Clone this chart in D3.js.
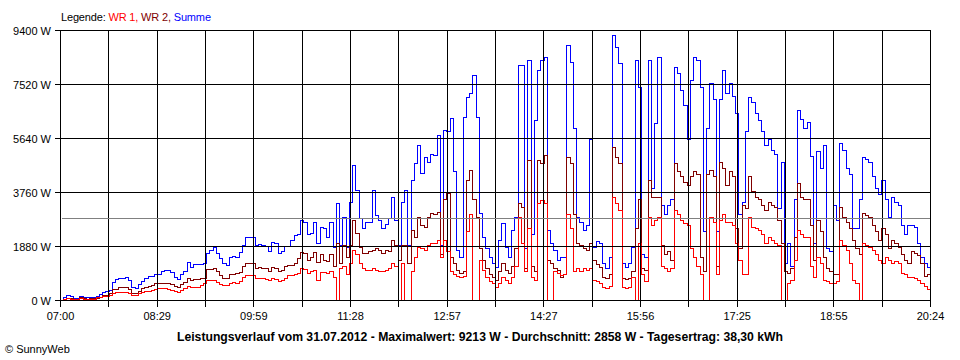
<!DOCTYPE html>
<html><head><meta charset="utf-8">
<script src="https://cdn.jsdelivr.net/npm/d3@7/dist/d3.min.js"></script>
<style>
body{margin:0;background:#fff}
svg{display:block}
text{font-family:"Liberation Sans",Arial,sans-serif;font-size:11px;fill:#000}
</style>
</head><body>
<svg id="c" width="960" height="360"></svg>
<script>
// ---- data ----
const startLabel = "07:00";
const stepMinutes = 3;            // sampling interval of the series
const totalMinutes = 804;         // 07:00 .. 20:24
const summe = [
0,100,160,150,60,80,150,120,90,100,
110,130,200,290,320,340,640,720,770,780,
790,700,450,430,560,650,760,820,840,890,
900,1000,1040,1050,960,800,730,900,1000,1330,
1150,1260,1250,1260,1300,1630,1750,1830,1650,1450,
1300,1220,1500,1520,1510,1680,1900,2200,2200,2200,
1915,1950,1900,1880,1720,2030,2000,1625,1700,1880,
1880,2100,2260,2300,2785,2700,2300,2320,2725,1970,
2550,2500,2200,2725,1850,3370,1900,2900,1850,3400,
4700,3830,2850,2500,2700,2720,3830,2960,2800,2500,
2650,2850,3600,2800,1900,3400,3830,1900,4180,4760,
5400,4420,4980,4800,5100,5050,5740,1900,5920,5900,
6330,4500,1740,1510,6380,7080,7190,7830,6380,3020,
2200,1800,1500,1300,1160,2090,2670,1850,1510,2440,
2900,8180,8180,1800,8360,2300,6270,8000,8360,8470,
2440,1980,1740,1390,1500,1500,8880,8300,6000,2900,
2700,2440,2600,5600,1860,2050,1970,1280,1100,1500,
9213,8820,8250,1280,1160,1300,1860,8360,7420,1600,
1500,8360,3900,6150,8470,3300,3000,3300,3500,8120,
7900,7300,6800,5600,7660,8470,8360,7400,2400,6000,
7550,7000,2400,7000,8000,7200,7550,7100,6500,3000,
3400,5900,7080,6890,6500,6270,5900,5400,5600,5220,
5100,3200,4800,1300,2000,1200,3500,6610,6300,6000,
6200,5000,2000,5200,4600,5400,1800,1700,3300,2800,
5450,5220,4600,4400,2500,2500,3500,4980,4900,4800,
4300,3900,3700,4180,3500,2900,3600,3400,3300,2600,
2300,2600,2610,2540,2000,1500,1300,1150,1000
];
const wr2 = [
0,40,80,70,40,50,90,70,50,60,
60,80,120,160,190,230,370,400,440,450,
450,400,240,230,330,420,460,490,520,580,
580,590,600,600,550,480,460,560,620,755,
680,720,740,760,780,1070,1090,1100,1000,880,
780,760,905,920,930,985,1200,1300,1300,1300,
1100,1160,1130,1100,1000,1150,1120,1000,1050,1180,
1220,1230,1300,1450,1680,1650,1390,1500,1680,1330,
1600,1390,1350,1600,1200,2000,1300,1900,1500,1900,
2785,2320,1860,1625,1650,1700,1740,1800,1740,1650,
1740,1700,2090,1900,1400,1900,1915,1300,2440,2200,
2900,2600,2550,2900,3020,3000,3050,1600,3500,3710,
1500,1300,1050,930,1000,4180,4530,3500,2900,1800,
1390,1100,900,800,700,1000,1280,1040,930,1200,
1800,3370,3250,1100,4870,1200,1000,4870,4770,5050,
1400,1300,1100,1040,810,900,4980,4770,3000,1980,
1900,1800,1740,2000,1390,1250,1160,800,760,900,
5330,4980,4770,760,720,760,1000,2500,3500,1100,
1050,4180,3600,3600,3600,1900,1600,1700,1400,4770,
4500,4300,4100,4000,4300,4500,4400,1500,1000,4400,
4530,4300,1200,4800,4600,4000,4500,4300,2500,1800,
3300,3200,4300,3800,3600,3500,3300,3130,3400,3300,
3250,2800,2000,1000,930,1100,2200,4060,3600,3500,
3500,2600,1400,2800,2400,1500,1100,1000,900,900,
3240,2900,2700,2500,2100,1800,1600,3020,2950,2900,
2600,2400,2100,2500,2300,1800,2100,2000,1850,1600,
1400,1300,1700,1650,1550,1300,850,900,800
];
const wr1 = [
0,20,60,50,30,30,60,50,30,40,
50,90,120,140,150,170,250,270,290,290,
290,260,180,175,240,290,320,330,350,400,
405,405,405,400,340,300,290,350,410,490,
450,460,470,530,580,700,710,700,640,560,
520,520,600,620,600,670,800,870,870,870,
760,755,755,740,700,750,720,650,680,760,
870,870,900,950,1100,1080,950,1000,1050,700,
985,985,950,1000,800,0,1100,1200,900,1300,
1740,1600,1280,1100,1050,1050,1100,1050,1000,1000,
1050,1100,1280,1200,0,1300,0,0,1000,1500,
1860,1800,1750,1900,1970,2000,2090,1500,2100,1700,
1000,900,850,810,850,2400,3000,0,0,1400,
1050,810,650,600,460,600,800,700,600,800,
1200,2900,2000,1000,2500,800,700,3370,3480,3370,
0,0,1000,930,870,900,3000,2500,1000,1100,
1000,1100,1050,1100,700,650,600,460,420,500,
3600,3370,3130,460,420,460,800,0,2000,900,
650,2900,2600,2800,2900,1200,1100,1000,1100,3130,
3000,2800,2670,2600,1800,1500,1200,900,0,0,
2900,2700,900,2800,3000,2700,2700,2600,2000,1400,
900,900,2900,2550,2500,2440,2300,2000,2200,2100,
2000,1900,0,0,600,700,1400,2440,2300,2200,
2200,1200,800,1500,1300,700,650,600,600,650,
2100,1900,1750,1300,700,600,0,1970,1900,1860,
1740,1600,1400,1300,1500,1390,1300,1350,1280,930,
900,810,810,760,700,600,500,400,300
];
const yTicks = [0,1880,3760,5640,7520,9400];
const xTickLabels = ["07:00","08:29","09:59","11:28","12:57","14:27","15:56","17:25","18:55","20:24"];
const gridDivisions = 18;
const average = 2858;
const legendItems = [
  {text:"WR 1,", color:"#ff0000"},
  {text:" WR 2,", color:"#800000"},
  {text:" Summe", color:"#0000ff"}
];
const titleText = "Leistungsverlauf vom 31.07.2012 - Maximalwert: 9213 W - Durchschnitt: 2858 W - Tagesertrag: 38,30 kWh";
const creditText = "\u00A9 SunnyWeb";

// ---- drawing ----
const svg = d3.select("#c");
const x = d3.scaleLinear().domain([0,totalMinutes]).range([60.5,930.5]);
const y = d3.scaleLinear().domain([0,9400]).range([300.5,30.5]);

const series = [
  {values: summe, color:"#0000ff"},
  {values: wr2, color:"#800000"},
  {values: wr1, color:"#ff0000"}
];
const line = d3.line()
  .x((d,i)=>x(i*stepMinutes))
  .y(d=>y(d))
  .curve(d3.curveStepAfter);

const dataG = svg.append("g");
series.forEach(s=>{
  dataG.append("path")
    .attr("d", line(s.values))
    .attr("fill","none")
    .attr("stroke", s.color)
    .attr("stroke-width",1)
    .attr("shape-rendering","crispEdges");
});

// grid (drawn above data as in the original)
const gridTicks = d3.range(gridDivisions+1).map(k=>k*totalMinutes/gridDivisions);
const gridG = svg.append("g").attr("shape-rendering","crispEdges");
yTicks.forEach(v=>{
  gridG.append("line").attr("x1",x(0)-6).attr("x2",x(totalMinutes))
    .attr("y1",y(v)).attr("y2",y(v)).attr("stroke","#000");
});
gridTicks.forEach(t=>{
  gridG.append("line").attr("x1",x(t)).attr("x2",x(t))
    .attr("y1",y(9400)).attr("y2",y(0)+6).attr("stroke","#000");
});
// average line
gridG.append("line").attr("x1",x(0)+1).attr("x2",x(totalMinutes)-1)
  .attr("y1",Math.round(y(average)-0.5)+0.5).attr("y2",Math.round(y(average)-0.5)+0.5)
  .attr("stroke","#808080");

// y labels
svg.append("g").selectAll("text").data(yTicks).join("text")
  .attr("x",51).attr("y",d=>y(d)+4).attr("text-anchor","end")
  .text(d=>d+" W");

// x labels
svg.append("g").selectAll("text").data(xTickLabels).join("text")
  .attr("x",(d,i)=>x(gridTicks[i*2])).attr("y",320).attr("text-anchor","middle")
  .text(d=>d);

// legend
const leg = svg.append("text").attr("x",61).attr("y",21).attr("textLength",150).attr("lengthAdjust","spacing");
leg.append("tspan").text("Legende: ");
legendItems.forEach(it=>leg.append("tspan").attr("fill",it.color).style("fill",it.color).text(it.text));

// title
svg.append("text").attr("x",177).attr("y",341)
  .attr("textLength",606).attr("lengthAdjust","spacingAndGlyphs")
  .style("font-weight","bold").style("font-size","12px").text(titleText);

// credit
svg.append("text").attr("x",5).attr("y",353).style("font-size","11px").text(creditText);
</script>
</body></html>
